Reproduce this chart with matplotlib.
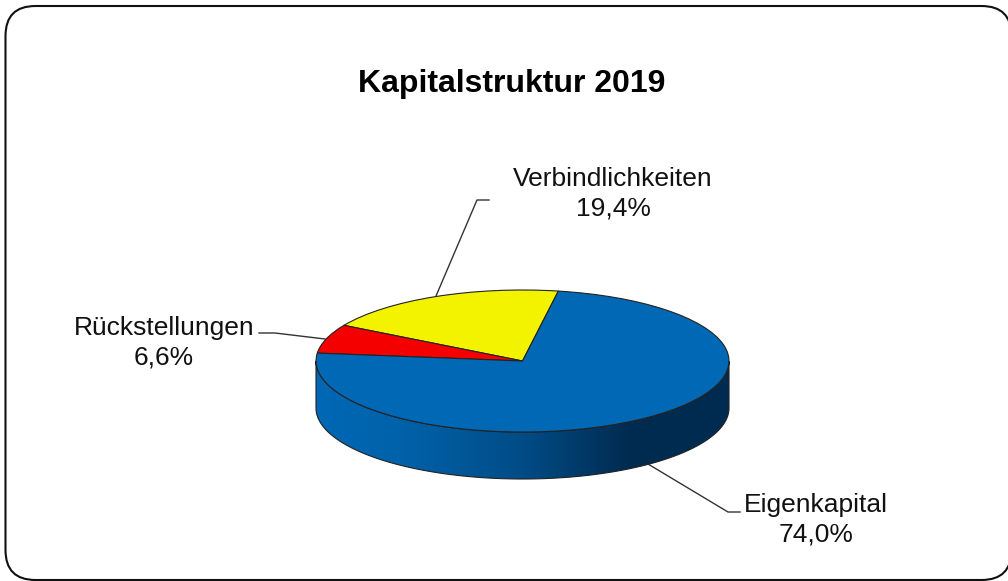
import numpy as np
import matplotlib
matplotlib.use("Agg")
import matplotlib.pyplot as plt
from matplotlib.colors import LinearSegmentedColormap
from matplotlib.patches import FancyBboxPatch, Polygon

plt.rcParams['font.family'] = ['Liberation Sans', 'DejaVu Sans']

title = "Kapitalstruktur 2019"
labels = ["Verbindlichkeiten", "Rückstellungen", "Eigenkapital"]
shares = [19.4, 6.6, 74.0]
colors = ["#f3f300", "#f40000", "#0068b5"]

W, H = 1008, 581
cx, cy, rx, ry, depth = 522.5, 361, 206.5, 71, 47

fig = plt.figure(figsize=(W / 100, H / 100), dpi=100, facecolor="white")

# hintergrund in pixelkoordinaten
ax = fig.add_axes([0, 0, 1, 1])
ax.set_xlim(0, W)
ax.set_ylim(H, 0)
ax.axis("off")

ax.add_patch(FancyBboxPatch((35.5, 36), 946, 514, boxstyle="round,pad=30,rounding_size=30",
                            fc="white", ec="#111111", lw=1.5, clip_on=False))

# fuehrungslinien
ax.plot([436, 477, 489], [296, 200, 200], color="#333333", lw=1)
ax.plot([259, 275, 325], [333, 333, 339], color="#333333", lw=1)
ax.plot([648, 728, 740], [464, 512, 512], color="#333333", lw=1)

# seitenwand mit verlauf
t = np.linspace(0, np.pi, 200)
front = np.column_stack([cx + rx * np.cos(t), cy + depth + ry * np.sin(t)])
back = np.column_stack([cx + rx * np.cos(t[::-1]), cy + ry * np.sin(t[::-1])])
side = Polygon(np.vstack([front, back]), closed=True, fc="none", ec="#222222", lw=0.8, zorder=3)
ax.add_patch(side)
cmap = LinearSegmentedColormap.from_list("side", [(0, "#0068b5"), (0.2, "#0062aa"), (0.5, "#004c86"),
                                                  (0.76, "#002b50"), (1, "#002b50")])
img = ax.imshow(np.linspace(0, 1, 256)[None, :], cmap=cmap, aspect="auto", zorder=2,
                extent=(cx - rx, cx + rx, cy + depth + ry, cy - ry))
img.set_clip_path(side)
ax.set_xlim(0, W)
ax.set_ylim(H, 0)

# deckel als gestauchter pie
pie_ax = fig.add_axes([(cx - rx) / W, 1 - (cy + ry) / H, 2 * rx / W, 2 * ry / H])
pie_ax.pie(shares, colors=colors, startangle=80, counterclock=True, radius=1,
           wedgeprops={"edgecolor": "#222222", "linewidth": 0.8, "clip_on": False})
pie_ax.set_aspect("auto")
pie_ax.set_xlim(-1, 1)
pie_ax.set_ylim(-1, 1)
pie_ax.patch.set_visible(False)

ax.text(511.5, 84, title, fontsize=23, fontweight="bold", ha="center", va="center")

label_pos = [(613, 194), (164, 343), (816, 520)]
for name, val, (x, y) in zip(labels, shares, label_pos):
    txt = name + "\n" + f"{val:.1f}".replace(".", ",") + "%"
    ax.text(x, y, txt, fontsize=19, ha="center", va="center", linespacing=1.29, color="#111111")

fig.savefig("out.png", dpi=100)
